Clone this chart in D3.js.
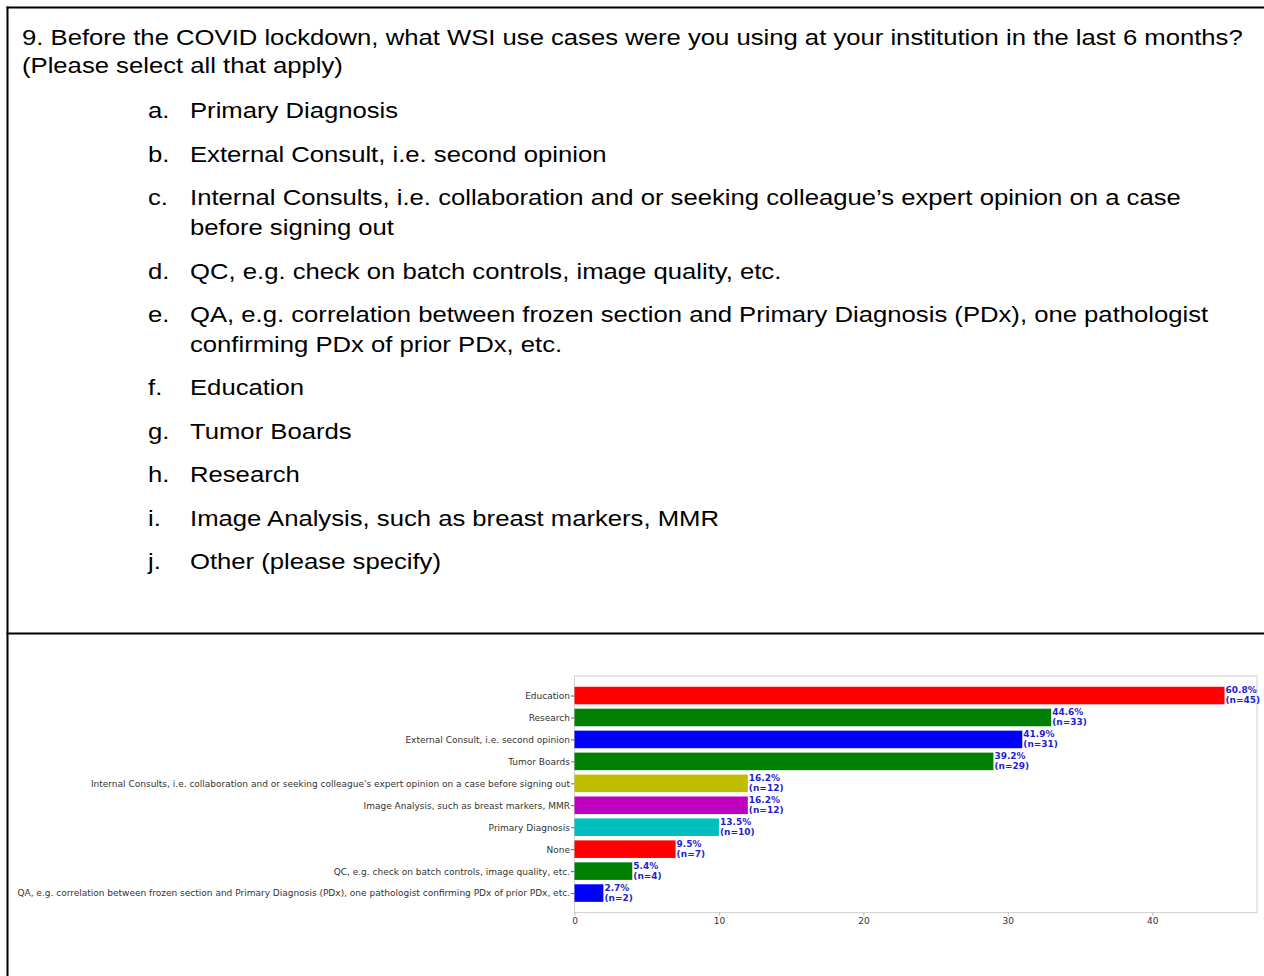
<!DOCTYPE html>
<html>
<head>
<meta charset="utf-8">
<script src="https://cdn.jsdelivr.net/npm/d3@7"></script>
<style>
  body { margin: 0; background: #fff; }
  svg { display: block; }
  .q { font-family: "Liberation Sans", Arial, sans-serif; font-size: 22px; fill: #000; }
  .ylab, .xlab { font-family: "DejaVu Sans", sans-serif; font-size: 9px; fill: #333; }
  .val { font-family: "DejaVu Sans", sans-serif; font-size: 9px; font-weight: bold; fill: #1f1fd0; }
</style>
</head>
<body>
<div id="page"></div>
<script>
// question text, top cell
const questionLines = [
  "9. Before the COVID lockdown, what WSI use cases were you using at your institution in the last 6 months?",
  "(Please select all that apply)"
];
const optionLetters = ["a.", "b.", "c.", "", "d.", "e.", "", "f.", "g.", "h.", "i.", "j."];
const optionTexts = [
  "Primary Diagnosis",
  "External Consult, i.e. second opinion",
  "Internal Consults, i.e. collaboration and or seeking colleague\u2019s expert opinion on a case",
  "before signing out",
  "QC, e.g. check on batch controls, image quality, etc.",
  "QA, e.g. correlation between frozen section and Primary Diagnosis (PDx), one pathologist",
  "confirming PDx of prior PDx, etc.",
  "Education",
  "Tumor Boards",
  "Research",
  "Image Analysis, such as breast markers, MMR",
  "Other (please specify)"
];
const optionBaselines = [118, 162, 205, 235, 279, 322, 352, 395, 439, 482, 526, 569];

// chart data, top to bottom
const categories = [
  "Education",
  "Research",
  "External Consult, i.e. second opinion",
  "Tumor Boards",
  "Internal Consults, i.e. collaboration and or seeking colleague's expert opinion on a case before signing out",
  "Image Analysis, such as breast markers, MMR",
  "Primary Diagnosis",
  "None",
  "QC, e.g. check on batch controls, image quality, etc.",
  "QA, e.g. correlation between frozen section and Primary Diagnosis (PDx), one pathologist confirming PDx of prior PDx, etc."
];
const counts = [45, 33, 31, 29, 12, 12, 10, 7, 4, 2];
const percents = ["60.8%", "44.6%", "41.9%", "39.2%", "16.2%", "16.2%", "13.5%", "9.5%", "5.4%", "2.7%"];
const barColors = ["#ff0000", "#008000", "#0000ff", "#008000", "#bfbf00", "#bf00bf", "#00bfbf", "#ff0000", "#008000", "#0000ff"];
const xTicks = [0, 10, 20, 30, 40];

const W = 1264, H = 976;
const stretch = 1.167; // the scanned text is a bit wider than plain Arial

const svg = d3.select("#page").append("svg")
    .attr("width", W)
    .attr("height", H);

// table borders
svg.append("line").attr("x1", 7.5).attr("x2", 7.5).attr("y1", 6.5).attr("y2", H)
    .attr("stroke", "#000").attr("stroke-width", 2);
svg.append("line").attr("x1", 6.5).attr("x2", W).attr("y1", 7.5).attr("y2", 7.5)
    .attr("stroke", "#000").attr("stroke-width", 2);
svg.append("line").attr("x1", 6.5).attr("x2", W).attr("y1", 633.5).attr("y2", 633.5)
    .attr("stroke", "#000").attr("stroke-width", 2);

svg.selectAll("text.qline")
  .data(questionLines)
  .enter().append("text")
    .attr("class", "q qline")
    .attr("transform", (d, i) => `translate(22,${45 + i * 28}) scale(${stretch},1)`)
    .text(d => d);

svg.selectAll("text.letter")
  .data(optionLetters)
  .enter().append("text")
    .attr("class", "q letter")
    .attr("transform", (d, i) => `translate(148,${optionBaselines[i]}) scale(${stretch},1)`)
    .text(d => d);

svg.selectAll("text.opt")
  .data(optionTexts)
  .enter().append("text")
    .attr("class", "q opt")
    .attr("transform", (d, i) => `translate(190,${optionBaselines[i]}) scale(${stretch},1)`)
    .text(d => d);

// bar chart, bottom cell
const plot = {left: 574.5, right: 1257, top: 676, bottom: 912.6};

const xScale = d3.scaleLinear()
    .domain([0, d3.max(counts) * 1.05])
    .range([plot.left, plot.right]);

// index positions, matplotlib-ish margins round bars of height 0.8
const yScale = d3.scaleLinear()
    .domain([-0.89, categories.length - 1 + 0.89])
    .range([plot.top, plot.bottom]);

const g = svg.append("g");

g.append("rect")
    .attr("x", plot.left)
    .attr("y", plot.top)
    .attr("width", plot.right - plot.left)
    .attr("height", plot.bottom - plot.top)
    .attr("fill", "none")
    .attr("stroke", "#d0d0d0")
    .attr("stroke-width", 1);

g.selectAll("rect.bar")
  .data(counts)
  .enter().append("rect")
    .attr("class", "bar")
    .attr("x", xScale(0))
    .attr("y", (d, i) => yScale(i - 0.4))
    .attr("width", d => xScale(d) - xScale(0))
    .attr("height", (d, i) => yScale(i + 0.4) - yScale(i - 0.4))
    .attr("fill", (d, i) => barColors[i]);

const xAxis = d3.axisBottom(xScale)
    .tickValues(xTicks)
    .tickSize(3)
    .tickPadding(2)
    .tickFormat(d3.format("d"));

const gx = g.append("g")
    .attr("transform", `translate(0,${plot.bottom})`)
    .call(xAxis);
gx.select(".domain").remove();
gx.selectAll("line").attr("stroke", "#bbb");
gx.selectAll("text").attr("class", "xlab").attr("fill", null);

const yAxis = d3.axisLeft(yScale)
    .tickValues(d3.range(categories.length))
    .tickSize(3.5)
    .tickPadding(1)
    .tickFormat(i => categories[i]);

const gy = g.append("g")
    .attr("transform", `translate(${plot.left},0)`)
    .call(yAxis);
gy.select(".domain").remove();
gy.selectAll("line").attr("stroke", "#666");
gy.selectAll("text").attr("class", "ylab").attr("fill", null);

const labels = g.selectAll("text.val")
  .data(counts)
  .enter().append("text")
    .attr("class", "val")
    .attr("x", d => xScale(d) + 1)
    .attr("y", (d, i) => yScale(i));

labels.append("tspan")
    .attr("x", d => xScale(d) + 1)
    .attr("dy", -2.5)
    .text((d, i) => percents[i]);

labels.append("tspan")
    .attr("x", d => xScale(d) + 1)
    .attr("dy", 10)
    .text(d => `(n=${d})`);
</script>
</body>
</html>
